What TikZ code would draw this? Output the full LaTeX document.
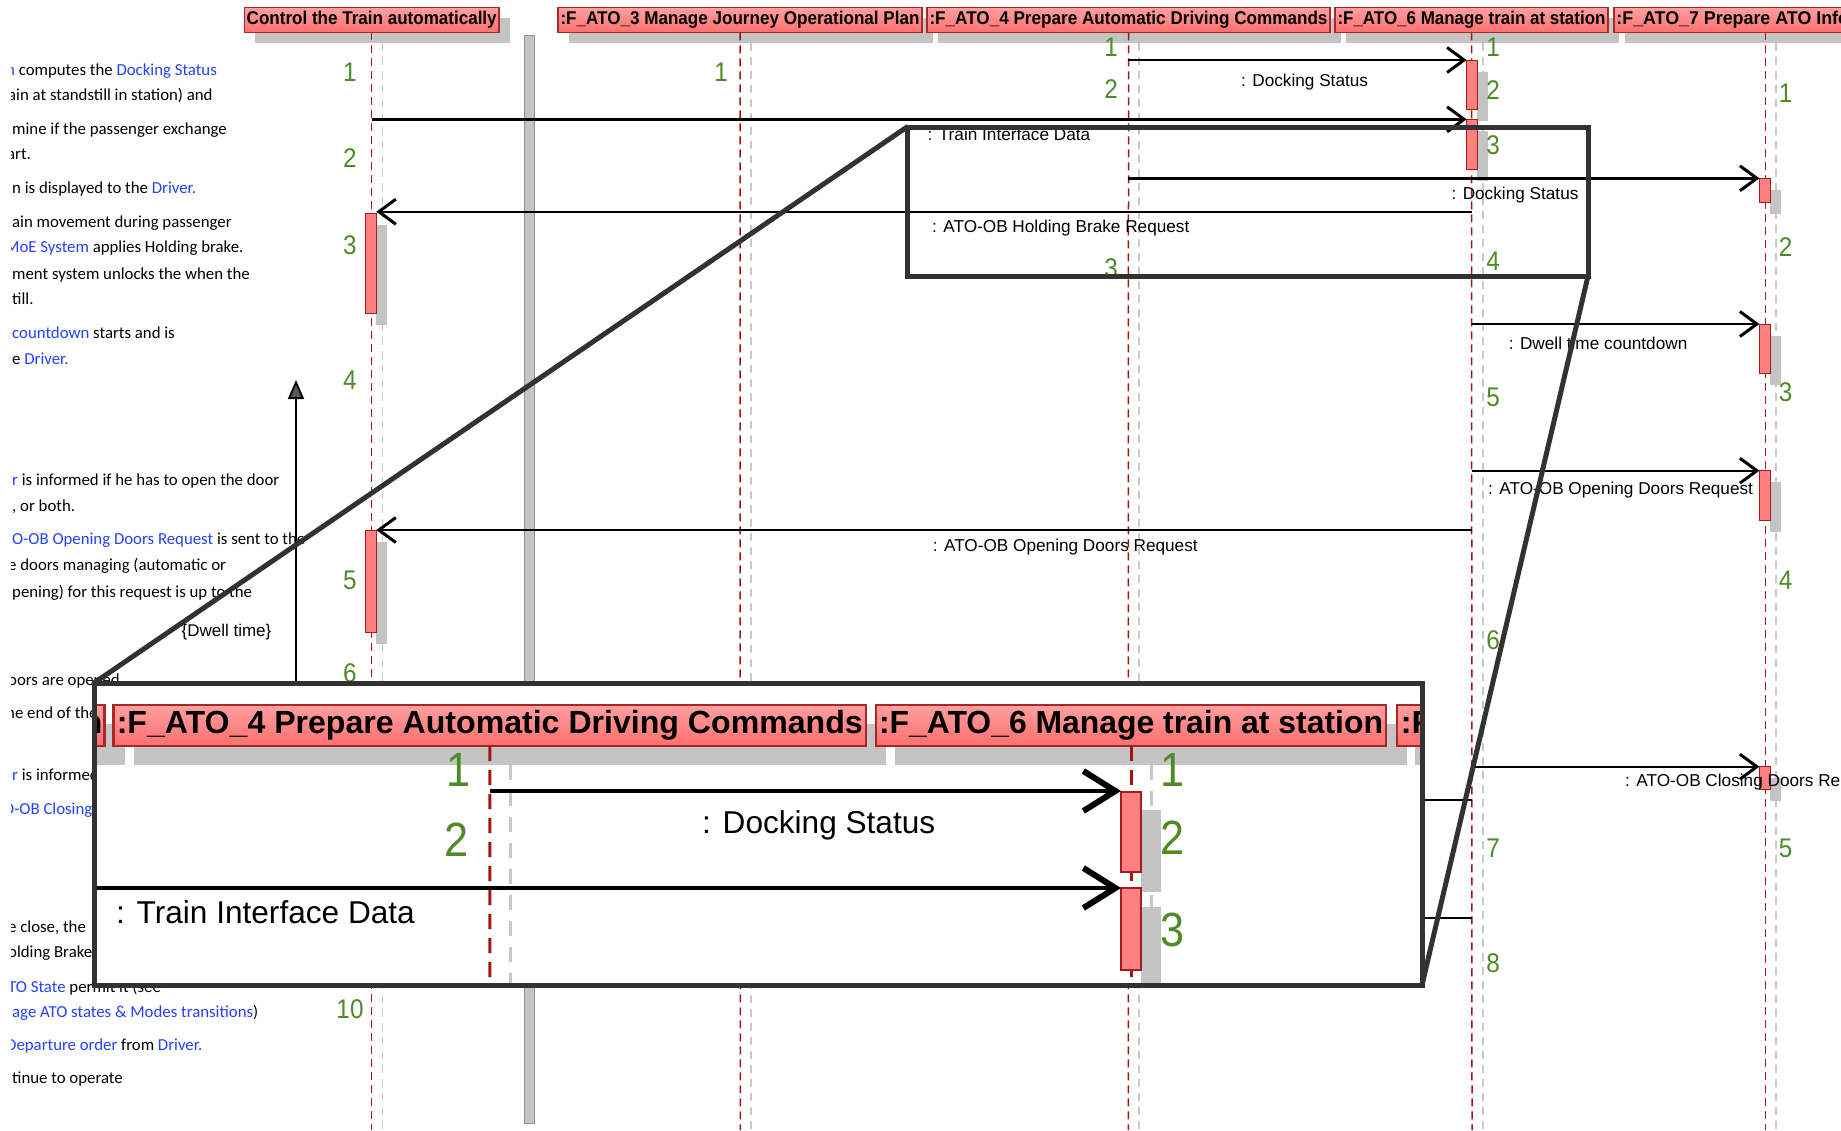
\documentclass[tikz,border=0pt]{standalone}
\usepackage{fontspec}
\usepackage{graphicx}
\setmainfont{Liberation Sans}
\newfontfamily\notefont{Carlito}
\newfontfamily\numfont[FakeStretch=0.9]{Liberation Sans}
\usetikzlibrary{arrows.meta}

\definecolor{hdrtop}{RGB}{255,160,160}
\definecolor{hdrbot}{RGB}{255,110,110}
\definecolor{hdrline}{RGB}{168,40,40}
\definecolor{actfill}{RGB}{255,128,128}
\definecolor{actline}{RGB}{160,30,30}
\definecolor{shadowgrey}{RGB}{196,196,196}
\definecolor{lifered}{RGB}{165,20,20}
\definecolor{lifegrey}{RGB}{200,200,200}
\definecolor{stepgreen}{RGB}{78,138,38}
\definecolor{linkblue}{RGB}{35,65,255}
\definecolor{framegrey}{RGB}{50,50,50}
\definecolor{barfill}{RGB}{196,196,196}
\definecolor{barline}{RGB}{145,145,145}

% squeeze a text horizontally to a given width (in pt), keeping its height
\newcommand\fitw[2]{\resizebox{#1pt}{\height}{#2}}
\newcommand\blue[1]{\textcolor{linkblue}{#1}}
% activation bar with its grey shadow: [style]{name}{x}{top}{bottom}
\newcommand\actbox[5][act]{%
  \fill[shadowgrey] (#3+5.3,#4+11.5) rectangle (#3+15.9,#5+11.5);
  \node[#1, minimum height=#5-#4] (#2) at (#3,{(#4+#5)/2}) {};}
% grey shadow under a lifeline header: {left}{right}
\newcommand\hdrshadow[2]{\fill[shadowgrey] (#1+10.5,18.3) rectangle (#2+10.5,43.3);}

\tikzset{
  hdr/.style={draw=hdrline, line width=1.3pt, top color=hdrtop, bottom color=hdrbot,
    inner sep=0pt, outer sep=0pt, minimum height=25pt,
    font=\bfseries\fontsize{18.5}{20}\selectfont},
  ihdr/.style={hdr, line width=2.2pt, minimum height=41pt,
    font=\bfseries\fontsize{32}{36}\selectfont},
  act/.style={draw=actline, fill=actfill, line width=1pt, inner sep=0pt, outer sep=0pt,
    minimum width=10.6pt},
  iact/.style={act, line width=1.8pt, minimum width=20pt},
  redlife/.style={draw=lifered, line width=1.5pt, dash pattern=on 8pt off 5pt},
  greylife/.style={draw=lifegrey, line width=1.5pt, dash pattern=on 8pt off 6pt},
  iredlife/.style={draw=lifered, line width=3pt, dash pattern=on 15pt off 9pt},
  igreylife/.style={draw=lifegrey, line width=3pt, dash pattern=on 15pt off 11pt},
  msg/.style={draw=black, line width=2.4pt, -{Straight Barb[length=17pt,width=25pt,line width=3pt]}},
  imsg/.style={draw=black, line width=4.5pt, -{Straight Barb[length=32pt,width=40pt,line width=6pt]}},
  stub/.style={draw=black, line width=2.2pt},
  lbl/.style={anchor=base west, inner sep=0pt, font=\fontsize{17.2}{19}\selectfont},
  ilbl/.style={anchor=base west, inner sep=0pt, font=\fontsize{31.6}{34}\selectfont},
  num/.style={inner sep=0pt, text=stepgreen, font=\numfont\fontsize{27}{30}\selectfont},
  inum/.style={num, font=\numfont\fontsize{48}{52}\selectfont},
  note/.style={anchor=base west, inner sep=0pt, font=\notefont\fontsize{16.8}{19}\selectfont},
  zoomframe/.style={draw=framegrey, line width=5pt, inner sep=0pt, outer sep=0pt},
  divider/.style={draw=barline, fill=barfill, line width=1pt, inner sep=0pt, outer sep=0pt,
    minimum width=10pt},
}

\begin{document}
\begin{tikzpicture}[x=1pt,y=-1pt]
\useasboundingbox (0,0) rectangle (1841,1130);
\clip (0,0) rectangle (1841,1130);

% ---------- header shadows ----------
\hdrshadow{244.4}{499}
\hdrshadow{558}{922}
\hdrshadow{927}{1330}
\hdrshadow{1335}{1608}
\hdrshadow{1614}{1917}

% ---------- separator bar ----------
\node[divider, minimum height=1088pt] (divider) at (529,579) {};

% ---------- lifeline headers ----------
\node[hdr, minimum width=254.6pt] (hA) at (371.7,19.8) {\fitw{250}{Control the Train automatically}};
\node[hdr, minimum width=364pt] (hB) at (740,19.8) {\fitw{359}{:F\_ATO\_3 Manage Journey Operational Plan}};
\node[hdr, minimum width=403pt] (hC) at (1128.5,19.8) {\fitw{398}{:F\_ATO\_4 Prepare Automatic Driving Commands}};
\node[hdr, minimum width=273pt] (hD) at (1471.5,19.8) {\fitw{268}{:F\_ATO\_6 Manage train at station}};
\node[hdr, minimum width=303pt] (hE) at (1765.4,19.8) {\fitw{298}{:F\_ATO\_7 Prepare ATO Information}};

% ---------- lifelines ----------
\foreach \h/\x in {hA/371.7, hB/740.4, hC/1128.4, hD/1472, hE/1765.4}{
  \coordinate (\h-end) at (\x,1130);
  \draw[redlife] (\h.south) -- (\h-end);
  \coordinate (\h-gtop) at (\x+10.8,43.3);
  \coordinate (\h-gend) at (\x+10.8,1130);
  \draw[greylife] (\h-gtop) -- (\h-gend);
}

% ---------- activations ----------
\actbox{aG}{371}{213}{313}
\actbox{aH}{371}{530}{632}
\actbox{aA}{1471.9}{60}{109}
\actbox{aB}{1471.9}{119.3}{169.3}
\actbox{aC}{1764.7}{178.3}{202}
\actbox{aD}{1764.7}{324}{373}
\actbox{aE}{1764.7}{470.7}{520}
\actbox{aF}{1764.7}{766.7}{789}

% ---------- messages ----------
\coordinate (s1) at (1128.4,60);    \draw[msg] (s1) -- (s1 -| aA.west);
\coordinate (s2) at (371.7,119.3);  \draw[msg] (s2) -- (s2 -| aB.west);
\coordinate (s3) at (1128.4,178.3); \draw[msg] (s3) -- (s3 -| aC.west);
\coordinate (s4) at (1472,211.7);   \draw[msg] (s4) -- (s4 -| aG.east);
\coordinate (s5) at (1472,324);     \draw[msg] (s5) -- (s5 -| aD.west);
\coordinate (s6) at (1472,470.7);   \draw[msg] (s6) -- (s6 -| aE.west);
\coordinate (s7) at (1472,530);     \draw[msg] (s7) -- (s7 -| aH.east);
\coordinate (s8) at (1472,766.7);   \draw[msg] (s8) -- (s8 -| aF.west);
\coordinate (s9) at (1472,800);     \coordinate (e9) at (1400,800);   \draw[stub] (s9) -- (e9);
\coordinate (s10) at (1472,918);    \coordinate (e10) at (1400,918);  \draw[stub] (s10) -- (e10);

% ---------- message labels ----------
\node[lbl] (l1) at (1241,86.2) {: Docking Status};
\node[lbl] (l2) at (927.5,140.2) {: Train Interface Data};
\node[lbl] (l3) at (1451.4,199.5) {: Docking Status};
\node[lbl] (l4) at (932,232.9) {: ATO-OB Holding Brake Request};
\node[lbl] (l5) at (1508.7,349.5) {: Dwell time countdown};
\node[lbl] (l6) at (1488,494.5) {: ATO-OB Opening Doors Request};
\node[lbl] (l7) at (932.7,551.2) {: ATO-OB Opening Doors Request};
\node[lbl] (l8) at (1625,786.2) {: ATO-OB Closing Doors Request};

% ---------- step numbers ----------
\foreach \n/\y [count=\i] in {1/72, 2/158, 3/245, 4/380, 5/580, 6/673, 10/1009}
  \node[num] (nA\i) at (350,\y) {\n};
\node[num] (nB1) at (721,72) {1};
\foreach \n/\y [count=\i] in {1/47, 2/89, 3/268}
  \node[num] (nC\i) at (1111,\y) {\n};
\foreach \n/\y [count=\i] in {1/47, 2/90, 3/145, 4/261, 5/397, 6/640, 7/848, 8/963}
  \node[num] (nD\i) at (1493,\y) {\n};
\foreach \n/\y [count=\i] in {1/93, 2/247, 3/392, 4/580, 5/848}
  \node[num] (nE\i) at (1785.5,\y) {\n};

% ---------- description text on the left ----------
\begin{scope}
\clip (11,0) rectangle (700,1130);
\node[note] (t1)  at (6,75)    {\blue{n} computes the \blue{Docking Status}};
\node[note] (t2)  at (8,100)   {ain at standstill in station) and};
\node[note] (t3)  at (12,134)  {mine if the passenger exchange};
\node[note] (t4)  at (7,159)   {art.};
\node[note] (t5)  at (12,193)  {n is displayed to the \blue{Driver.}};
\node[note] (t6)  at (12,227)  {ain movement during passenger};
\node[note] (t7)  at (5,252)   {\blue{MoE System} applies Holding brake.};
\node[note] (t8)  at (12,279)  {ment system unlocks the when the};
\node[note] (t9)  at (12,304)  {till.};
\node[note] (t10) at (12,338)  {\blue{countdown} starts and is};
\node[note] (t11) at (12,364)  {e \blue{Driver.}};
\node[note] (t12) at (12,485)  {\blue{r} is informed if he has to open the door};
\node[note] (t13) at (12,511)  {, or both.};
\node[note] (t14) at (12,544)  {\blue{O-OB Opening Doors Request} is sent to the};
\node[note] (t15) at (8,570)   {e doors managing (automatic or};
\node[note] (t16) at (12,597)  {pening) for this request is up to the};
\node[note] (t17) at (8,685)   {oors are opened};
\node[note] (t18) at (6,718)   {he end of the};
\node[note] (t19) at (12,780)  {\blue{r} is informed};
\node[note] (t20) at (3,814)   {\blue{O-OB Closing}};
\node[note] (t21) at (8,932)   {e close, the};
\node[note] (t22) at (8,957)   {olding Brake};
\node[note] (t23) at (8,992)   {\blue{TO State} permit it (see};
\node[note] (t24) at (12,1017) {\blue{age ATO states \& Modes transitions})};
\node[note] (t25) at (6,1050)  {\blue{Departure order} from \blue{Driver.}};
\node[note] (t26) at (12,1083) {tinue to operate};
\end{scope}
\node[inner sep=0pt, font=\fontsize{17}{19}\selectfont] (dwell) at (226.5,632) {\{Dwell time\}};

% ---------- dwell time axis ----------
\coordinate (upfoot) at (296,683);
\coordinate (uphead) at (296,380);
\draw[line width=1.8pt, -{Triangle[length=19pt,width=16pt,fill=black!65]}] (upfoot) -- (uphead);

% ---------- magnifier ----------
\node[zoomframe, minimum width=681pt, minimum height=149pt] (zsrc) at (1247.5,201.5) {};
\node[zoomframe, fill=white, minimum width=1328pt, minimum height=302pt] (zview) at (758,834) {};
\draw[draw=framegrey, line width=5pt, line cap=round] (zsrc.north west) -- (zview.north west);
\draw[draw=framegrey, line width=5pt, line cap=round] (zsrc.south east) -- (zview.south east);

\begin{scope}
\clip (zview.north west) rectangle (zview.south east);
% magnified header strip
\fill[shadowgrey] (-60,724) rectangle (124.6,765);
\fill[shadowgrey] (133.6,724) rectangle (886,765);
\fill[shadowgrey] (895,724) rectangle (1407,765);
\fill[shadowgrey] (1415,724) rectangle (2000,765);
\node[ihdr, minimum width=676pt, anchor=east] (iA) at (104.5,725.5) {\fitw{672}{:F\_ATO\_3 Manage Journey Operational Plan}};
\node[ihdr, minimum width=752.5pt] (iB) at (489.75,725.5) {\fitw{746}{:F\_ATO\_4 Prepare Automatic Driving Commands}};
\node[ihdr, minimum width=510pt] (iC) at (1131,725.5) {\fitw{504}{:F\_ATO\_6 Manage train at station}};
\node[ihdr, minimum width=565pt, anchor=west] (iD) at (1397,725.5) {\fitw{558}{:F\_ATO\_7 Prepare ATO Information}};
% magnified lifelines
\coordinate (iB-end) at (490,995);   \draw[iredlife] (iB.south) -- (iB-end);
\coordinate (iB-gtop) at (510,765);  \coordinate (iB-gend) at (510,995);  \draw[igreylife] (iB-gtop) -- (iB-gend);
\coordinate (iC-end) at (1131,995);  \draw[iredlife] (iC.south) -- (iC-end);
\coordinate (iC-gtop) at (1151,765); \coordinate (iC-gend) at (1151,995); \draw[igreylife] (iC-gtop) -- (iC-gend);
% magnified activations
\fill[shadowgrey] (1141,810) rectangle (1161,892);
\node[iact, minimum height=80pt] (ia1) at (1131,832) {};
\fill[shadowgrey] (1141,907) rectangle (1161,983);
\node[iact, minimum height=82pt] (ia2) at (1131,929) {};
% magnified messages
\coordinate (is1) at (490,791); \draw[imsg] (is1) -- (is1 -| ia1.west);
\coordinate (is2) at (85,888);  \draw[imsg] (is2) -- (is2 -| ia2.west);
\node[ilbl] (il1) at (702,833) {: Docking Status};
\node[ilbl] (il2) at (116,923) {: Train Interface Data};
% magnified step numbers
\node[inum] (in1) at (459,770) {1};
\node[inum] (in2) at (457,840) {2};
\node[inum] (in3) at (1172,770) {1};
\node[inum] (in4) at (1172,838) {2};
\node[inum] (in5) at (1172,930) {3};
\end{scope}
\draw[zoomframe] (zview.north west) rectangle (zview.south east);

\end{tikzpicture}
\end{document}
